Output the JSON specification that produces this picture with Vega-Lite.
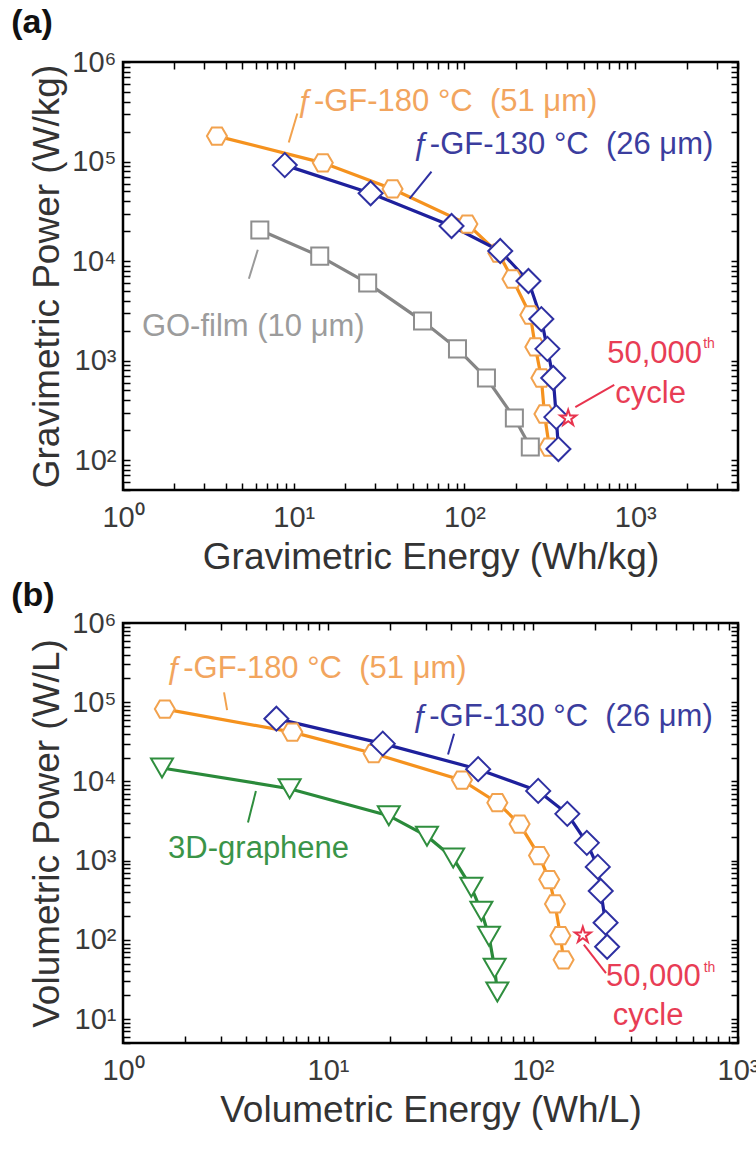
{
  "$schema": "https://vega.github.io/schema/vega-lite/v6.json",
  "padding": {"left": 10, "top": 4, "right": 0, "bottom": 5},
  "background": "white",
  "config": {
    "font": "Liberation Sans",
    "view": {"stroke": "#000", "strokeWidth": 2.5},
    "axis": {
      "labelFont": "Liberation Sans", "labelFontSize": 29, "labelColor": "#3a3a3a",
      "titleFont": "Liberation Sans", "titleFontSize": 37, "titleFontWeight": "normal", "titleColor": "#333",
      "domain": false, "grid": false, "tickColor": "#000", "tickWidth": 1.5, "tickSize": -7,
      "labelOverlap": false, "labelFlush": false, "labelBound": false
    },
    "title": {"font": "Liberation Sans", "fontSize": 34, "fontWeight": "bold", "anchor": "start", "frame": "bounds", "color": "#111"},
    "concat": {"spacing": 0}
  },
  "datasets": {
    "a_pts": [
      {"series": "f180", "energy": 3.55, "power": 180000},
      {"series": "f180", "energy": 14.8, "power": 97000},
      {"series": "f180", "energy": 37.9, "power": 53000},
      {"series": "f180", "energy": 104, "power": 23500},
      {"series": "f180", "energy": 158, "power": 12000},
      {"series": "f180", "energy": 191, "power": 6600},
      {"series": "f180", "energy": 243, "power": 2870},
      {"series": "f180", "energy": 260, "power": 1370},
      {"series": "f180", "energy": 282, "power": 667},
      {"series": "f180", "energy": 294, "power": 290},
      {"series": "f180", "energy": 314, "power": 135},
      {"series": "f130", "energy": 8.86, "power": 92000},
      {"series": "f130", "energy": 28.2, "power": 48000},
      {"series": "f130", "energy": 84, "power": 22500},
      {"series": "f130", "energy": 162, "power": 12600},
      {"series": "f130", "energy": 237, "power": 6300},
      {"series": "f130", "energy": 282, "power": 2610},
      {"series": "f130", "energy": 306, "power": 1310},
      {"series": "f130", "energy": 331, "power": 667},
      {"series": "f130", "energy": 345, "power": 270},
      {"series": "f130", "energy": 355, "power": 129},
      {"series": "GO", "energy": 6.33, "power": 20500},
      {"series": "GO", "energy": 14.2, "power": 11200},
      {"series": "GO", "energy": 27.1, "power": 6000},
      {"series": "GO", "energy": 56.8, "power": 2490},
      {"series": "GO", "energy": 91, "power": 1310},
      {"series": "GO", "energy": 134.5, "power": 667},
      {"series": "GO", "energy": 196, "power": 264},
      {"series": "GO", "energy": 243, "power": 135},
      {"series": "star", "energy": 405, "power": 264}
    ],
    "a_lead": [
      {"series": "f180", "e1": 10.5, "p1": 304000, "e2": 9.35, "p2": 155000},
      {"series": "f130", "e1": 64.1, "p1": 79300, "e2": 47.7, "p2": 42400},
      {"series": "GO", "e1": 6.16, "p1": 13000, "e2": 5.46, "p2": 6640},
      {"series": "star", "e1": 446, "p1": 341, "e2": 754, "p2": 568}
    ],
    "a_txt": [
      {"series": "f180", "kind": "main", "label": "ƒ-GF-180 °C\u00a0 (51 μm)", "energy": 10.4, "power": 393000},
      {"series": "f130", "kind": "main", "label": "ƒ-GF-130 °C\u00a0 (26 μm)", "energy": 49.7, "power": 145000},
      {"series": "GO", "kind": "main", "label": "GO-film (10 μm)", "energy": 1.29, "power": 2180},
      {"series": "star", "kind": "main", "label": "50,000", "energy": 686, "power": 1160},
      {"series": "star", "kind": "sup", "label": "th", "energy": 2500, "power": 1450},
      {"series": "star", "kind": "main", "label": "cycle", "energy": 764, "power": 461}
    ],
    "b_pts": [
      {"series": "f180", "energy": 1.6, "power": 82000},
      {"series": "f180", "energy": 6.7, "power": 42000},
      {"series": "f180", "energy": 16.7, "power": 22500},
      {"series": "f180", "energy": 45, "power": 10400},
      {"series": "f180", "energy": 67, "power": 5400},
      {"series": "f180", "energy": 86, "power": 2900},
      {"series": "f180", "energy": 107, "power": 1160},
      {"series": "f180", "energy": 120, "power": 577},
      {"series": "f180", "energy": 128, "power": 285},
      {"series": "f180", "energy": 136, "power": 113},
      {"series": "f180", "energy": 141, "power": 56},
      {"series": "f130", "energy": 5.6, "power": 62000},
      {"series": "f130", "energy": 18.5, "power": 30000},
      {"series": "f130", "energy": 54, "power": 14300},
      {"series": "f130", "energy": 106, "power": 7600},
      {"series": "f130", "energy": 147, "power": 3900},
      {"series": "f130", "energy": 183, "power": 1680},
      {"series": "f130", "energy": 207, "power": 835},
      {"series": "f130", "energy": 214, "power": 415},
      {"series": "f130", "energy": 226, "power": 165},
      {"series": "f130", "energy": 230, "power": 82},
      {"series": "3D", "energy": 1.55, "power": 14800},
      {"series": "3D", "energy": 6.5, "power": 8100},
      {"series": "3D", "energy": 19.8, "power": 3700},
      {"series": "3D", "energy": 30.4, "power": 2040},
      {"series": "3D", "energy": 40.8, "power": 1080},
      {"series": "3D", "energy": 50, "power": 463},
      {"series": "3D", "energy": 56, "power": 230},
      {"series": "3D", "energy": 61, "power": 111},
      {"series": "3D", "energy": 65, "power": 44},
      {"series": "3D", "energy": 67, "power": 22},
      {"series": "star", "energy": 175, "power": 115}
    ],
    "b_lead": [
      {"series": "f180", "e1": 3.11, "p1": 133000, "e2": 3.22, "p2": 79500},
      {"series": "f130", "e1": 41.2, "p1": 40000, "e2": 38.5, "p2": 21900},
      {"series": "3D", "e1": 4.45, "p1": 7600, "e2": 4.07, "p2": 3040},
      {"series": "star", "e1": 177, "p1": 87, "e2": 227, "p2": 38}
    ],
    "b_txt": [
      {"series": "f180", "kind": "main", "label": "ƒ-GF-180 °C\u00a0 (51 μm)", "energy": 1.62, "power": 265000},
      {"series": "f130", "kind": "main", "label": "ƒ-GF-130 °C\u00a0 (26 μm)", "energy": 25.7, "power": 65100},
      {"series": "3D", "kind": "main", "label": "3D-graphene", "energy": 1.66, "power": 1400},
      {"series": "star", "kind": "main", "label": "50,000", "energy": 227, "power": 33.9},
      {"series": "star", "kind": "sup", "label": "th", "energy": 680, "power": 44},
      {"series": "star", "kind": "main", "label": "cycle", "energy": 245, "power": 11.1}
    ]
  },
  "vconcat": [
    {
      "title": {"text": "(a)", "dx": -17, "offset": 8},
      "width": 615,
      "height": 428,
      "resolve": {"scale": {"color": "independent"}, "axis": {"x": "independent", "y": "independent"}},
      "layer": [
        {
          "data": {"name": "a_pts"},
          "transform": [{"filter": "datum.series != 'star'"}],
          "mark": {"type": "line", "strokeWidth": 3.2},
          "encoding": {
            "x": {"field": "energy", "type": "quantitative",
              "scale": {"type": "log", "domain": [1, 4000], "nice": false},
              "axis": {"orient": "bottom", "title": "Gravimetric Energy (Wh/kg)", "labelPadding": 20, "titlePadding": 7,
                "values": [1,2,3,4,5,6,7,8,9,10,20,30,40,50,60,70,80,90,100,200,300,400,500,600,700,800,900,1000,2000,3000,4000],
                "labelExpr": "indexof([1,10,100,1000,10000,100000,1000000], datum.value) >= 0 ? '10' + ['⁰','¹','²','³','⁴','⁵','⁶'][round(log(datum.value)/LN10)] : ''"}},
            "y": {"field": "power", "type": "quantitative",
              "scale": {"type": "log", "domain": [50, 1000000], "nice": false},
              "axis": {"orient": "left", "title": "Gravimetric Power (W/kg)", "labelPadding": 14, "titlePadding": 5,
                "values": [50,60,70,80,90,100,200,300,400,500,600,700,800,900,1000,2000,3000,4000,5000,6000,7000,8000,9000,10000,20000,30000,40000,50000,60000,70000,80000,90000,100000,200000,300000,400000,500000,600000,700000,800000,900000,1000000],
                "labelExpr": "indexof([1,10,100,1000,10000,100000,1000000], datum.value) >= 0 ? '10' + ['⁰','¹','²','³','⁴','⁵','⁶'][round(log(datum.value)/LN10)] : ''"}},
            "color": {"field": "series", "type": "nominal",
              "scale": {"domain": ["f180", "f130", "GO", "3D", "star"], "range": ["#F5921E", "#1E209C", "#858585", "#2A8A3A", "#E8344E"]},
              "legend": null}
          }
        },
        {
          "data": {"name": "a_pts"},
          "mark": {"type": "point", "filled": false, "fill": "white", "fillOpacity": 1, "strokeWidth": 2, "opacity": 1},
          "encoding": {
            "x": {"field": "energy", "type": "quantitative",
              "axis": {"orient": "top", "labels": false, "title": null,
                "values": [1,2,3,4,5,6,7,8,9,10,20,30,40,50,60,70,80,90,100,200,300,400,500,600,700,800,900,1000,2000,3000,4000]}},
            "y": {"field": "power", "type": "quantitative",
              "axis": {"orient": "right", "labels": false, "title": null,
                "values": [50,60,70,80,90,100,200,300,400,500,600,700,800,900,1000,2000,3000,4000,5000,6000,7000,8000,9000,10000,20000,30000,40000,50000,60000,70000,80000,90000,100000,200000,300000,400000,500000,600000,700000,800000,900000,1000000]}},
            "color": {"field": "series", "type": "nominal",
              "scale": {"domain": ["f180", "f130", "GO", "3D", "star"], "range": ["#F2A24E", "#2E30A2", "#8E8E8E", "#2F8E3E", "#E8344E"]},
              "legend": null},
            "shape": {"field": "series", "type": "nominal",
              "scale": {"domain": ["f180", "f130", "GO", "3D", "star"], "range": ["M-1,0L-0.5,-0.866L0.5,-0.866L1,0L0.5,0.866L-0.5,0.866Z", "diamond", "square", "triangle-down", "M0,-1L0.2245,-0.309L0.9511,-0.309L0.3633,0.118L0.5878,0.809L0,0.382L-0.5878,0.809L-0.3633,0.118L-0.9511,-0.309L-0.2245,-0.309Z"]},
              "legend": null},
            "size": {"field": "series", "type": "nominal",
              "scale": {"type": "ordinal", "domain": ["f180", "f130", "GO", "3D", "star"], "range": [400, 576, 290, 484, 280]},
              "legend": null}
          }
        },
        {
          "data": {"name": "a_lead"},
          "mark": {"type": "rule", "strokeWidth": 2},
          "encoding": {
            "x": {"field": "e1", "type": "quantitative", "axis": null},
            "y": {"field": "p1", "type": "quantitative", "axis": null},
            "x2": {"field": "e2"},
            "y2": {"field": "p2"},
            "color": {"field": "series", "type": "nominal",
              "scale": {"domain": ["f180", "f130", "GO", "3D", "star"], "range": ["#F2A24E", "#2E30A2", "#9A9A9A", "#2F8E3E", "#E8344E"]},
              "legend": null}
          }
        },
        {
          "data": {"name": "a_txt"},
          "transform": [{"filter": "datum.kind == 'main'"}],
          "mark": {"type": "text", "align": "left", "baseline": "middle", "font": "Liberation Sans", "fontSize": 31},
          "encoding": {
            "x": {"field": "energy", "type": "quantitative", "axis": null},
            "y": {"field": "power", "type": "quantitative", "axis": null},
            "text": {"field": "label"},
            "color": {"field": "series", "type": "nominal",
              "scale": {"domain": ["f180", "f130", "GO", "3D", "star"], "range": ["#F2A55E", "#3B3D9E", "#9C9C9C", "#3A9448", "#E83D55"]},
              "legend": null}
          }
        },
        {
          "data": {"name": "a_txt"},
          "transform": [{"filter": "datum.kind == 'sup'"}],
          "mark": {"type": "text", "align": "left", "baseline": "middle", "font": "Liberation Sans", "fontSize": 14, "color": "#E83D55"},
          "encoding": {
            "x": {"field": "energy", "type": "quantitative", "axis": null},
            "y": {"field": "power", "type": "quantitative", "axis": null},
            "text": {"field": "label"}
          }
        }
      ]
    },
    {
      "title": {"text": "(b)", "dx": -17, "offset": -4},
      "width": 615,
      "height": 420,
      "resolve": {"scale": {"color": "independent"}, "axis": {"x": "independent", "y": "independent"}},
      "layer": [
        {
          "data": {"name": "b_pts"},
          "transform": [{"filter": "datum.series != 'star'"}],
          "mark": {"type": "line", "strokeWidth": 3.2},
          "encoding": {
            "x": {"field": "energy", "type": "quantitative",
              "scale": {"type": "log", "domain": [1, 1000], "nice": false},
              "axis": {"orient": "bottom", "title": "Volumetric Energy (Wh/L)", "labelPadding": 20, "titlePadding": 7,
                "values": [1,2,3,4,5,6,7,8,9,10,20,30,40,50,60,70,80,90,100,200,300,400,500,600,700,800,900,1000],
                "labelExpr": "indexof([1,10,100,1000,10000,100000,1000000], datum.value) >= 0 ? '10' + ['⁰','¹','²','³','⁴','⁵','⁶'][round(log(datum.value)/LN10)] : ''"}},
            "y": {"field": "power", "type": "quantitative",
              "scale": {"type": "log", "domain": [5, 1000000], "nice": false},
              "axis": {"orient": "left", "title": "Volumetric Power (W/L)", "labelPadding": 14, "titlePadding": 5,
                "values": [5,6,7,8,9,10,20,30,40,50,60,70,80,90,100,200,300,400,500,600,700,800,900,1000,2000,3000,4000,5000,6000,7000,8000,9000,10000,20000,30000,40000,50000,60000,70000,80000,90000,100000,200000,300000,400000,500000,600000,700000,800000,900000,1000000],
                "labelExpr": "indexof([1,10,100,1000,10000,100000,1000000], datum.value) >= 0 ? '10' + ['⁰','¹','²','³','⁴','⁵','⁶'][round(log(datum.value)/LN10)] : ''"}},
            "color": {"field": "series", "type": "nominal",
              "scale": {"domain": ["f180", "f130", "GO", "3D", "star"], "range": ["#F5921E", "#1E209C", "#858585", "#2A8A3A", "#E8344E"]},
              "legend": null}
          }
        },
        {
          "data": {"name": "b_pts"},
          "mark": {"type": "point", "filled": false, "fill": "white", "fillOpacity": 1, "strokeWidth": 2, "opacity": 1},
          "encoding": {
            "x": {"field": "energy", "type": "quantitative",
              "axis": {"orient": "top", "labels": false, "title": null,
                "values": [1,2,3,4,5,6,7,8,9,10,20,30,40,50,60,70,80,90,100,200,300,400,500,600,700,800,900,1000]}},
            "y": {"field": "power", "type": "quantitative",
              "axis": {"orient": "right", "labels": false, "title": null,
                "values": [5,6,7,8,9,10,20,30,40,50,60,70,80,90,100,200,300,400,500,600,700,800,900,1000,2000,3000,4000,5000,6000,7000,8000,9000,10000,20000,30000,40000,50000,60000,70000,80000,90000,100000,200000,300000,400000,500000,600000,700000,800000,900000,1000000]}},
            "color": {"field": "series", "type": "nominal",
              "scale": {"domain": ["f180", "f130", "GO", "3D", "star"], "range": ["#F2A24E", "#2E30A2", "#8E8E8E", "#2F8E3E", "#E8344E"]},
              "legend": null},
            "shape": {"field": "series", "type": "nominal",
              "scale": {"domain": ["f180", "f130", "GO", "3D", "star"], "range": ["M-1,0L-0.5,-0.866L0.5,-0.866L1,0L0.5,0.866L-0.5,0.866Z", "diamond", "square", "triangle-down", "M0,-1L0.2245,-0.309L0.9511,-0.309L0.3633,0.118L0.5878,0.809L0,0.382L-0.5878,0.809L-0.3633,0.118L-0.9511,-0.309L-0.2245,-0.309Z"]},
              "legend": null},
            "size": {"field": "series", "type": "nominal",
              "scale": {"type": "ordinal", "domain": ["f180", "f130", "GO", "3D", "star"], "range": [400, 530, 290, 484, 300]},
              "legend": null}
          }
        },
        {
          "data": {"name": "b_lead"},
          "mark": {"type": "rule", "strokeWidth": 2},
          "encoding": {
            "x": {"field": "e1", "type": "quantitative", "axis": null},
            "y": {"field": "p1", "type": "quantitative", "axis": null},
            "x2": {"field": "e2"},
            "y2": {"field": "p2"},
            "color": {"field": "series", "type": "nominal",
              "scale": {"domain": ["f180", "f130", "GO", "3D", "star"], "range": ["#F2A24E", "#2E30A2", "#9A9A9A", "#2F8E3E", "#E8344E"]},
              "legend": null}
          }
        },
        {
          "data": {"name": "b_txt"},
          "transform": [{"filter": "datum.kind == 'main'"}],
          "mark": {"type": "text", "align": "left", "baseline": "middle", "font": "Liberation Sans", "fontSize": 31},
          "encoding": {
            "x": {"field": "energy", "type": "quantitative", "axis": null},
            "y": {"field": "power", "type": "quantitative", "axis": null},
            "text": {"field": "label"},
            "color": {"field": "series", "type": "nominal",
              "scale": {"domain": ["f180", "f130", "GO", "3D", "star"], "range": ["#F2A55E", "#3B3D9E", "#9C9C9C", "#3A9448", "#E83D55"]},
              "legend": null}
          }
        },
        {
          "data": {"name": "b_txt"},
          "transform": [{"filter": "datum.kind == 'sup'"}],
          "mark": {"type": "text", "align": "left", "baseline": "middle", "font": "Liberation Sans", "fontSize": 14, "color": "#E83D55"},
          "encoding": {
            "x": {"field": "energy", "type": "quantitative", "axis": null},
            "y": {"field": "power", "type": "quantitative", "axis": null},
            "text": {"field": "label"}
          }
        }
      ]
    }
  ]
}
